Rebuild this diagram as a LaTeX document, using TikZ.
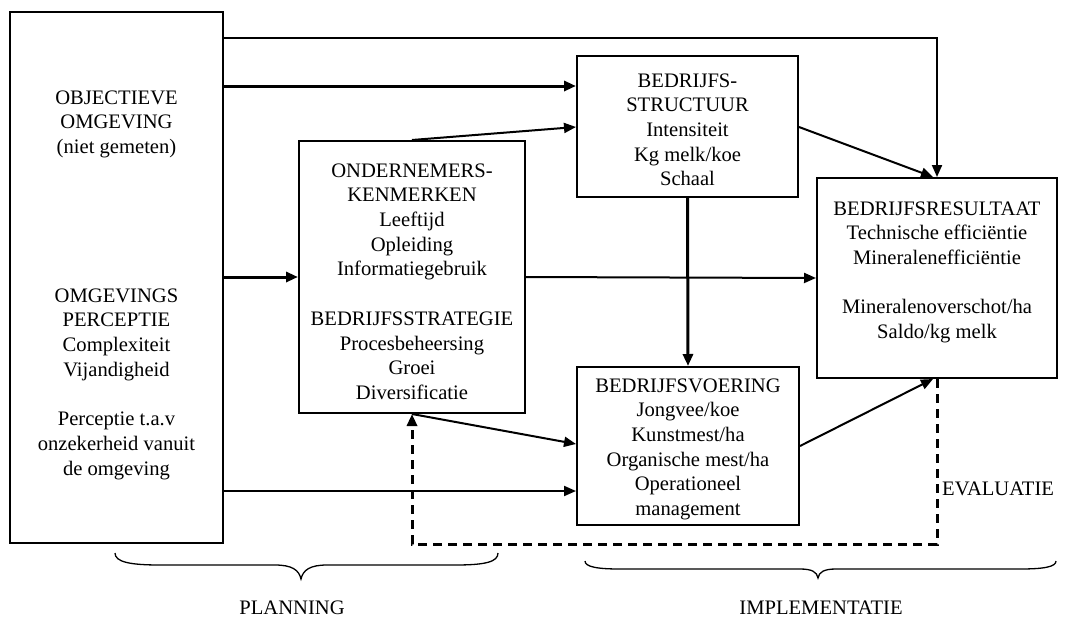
\documentclass[tikz,border=0pt]{standalone}
\usepackage{fontspec}
\setmainfont{Liberation Serif}
\usetikzlibrary{arrows.meta}
\begin{document}
\begin{tikzpicture}[x=1pt,y=-1pt,
  every node/.style={font=\fontsize{20.6}{24.7}\selectfont},
  box/.style={draw,line width=2pt,inner sep=0pt,rectangle},
  txt/.style={align=center,inner sep=0pt,anchor=north},
  thin/.style={line width=2pt,-{Triangle[length=12pt,width=10pt]}},
  thick/.style={line width=3pt,-{Triangle[length=12pt,width=10pt]}},
  fb/.style={line width=3pt,dash pattern=on 9pt off 6pt,-{Triangle[length=12pt,width=10pt]}},
  brace/.style={line width=1.3pt}]
\useasboundingbox (0,0) rectangle (1075,621);
% boxes
\node[box,minimum width=213pt,minimum height=531pt] (L) at (116.5,277.5) {};
\node[box,minimum width=226pt,minimum height=272pt] (O) at (412,277) {};
\node[box,minimum width=221pt,minimum height=141pt] (S) at (687.5,126.5) {};
\node[box,minimum width=222pt,minimum height=158pt] (V) at (688,446) {};
\node[box,minimum width=240pt,minimum height=200pt] (R) at (937,278) {};
% texts
\node[txt] (Lt1) at (116.5,86.7) {\strut OBJECTIEVE\\OMGEVING\\(niet gemeten)};
\node[txt] (Lt2) at (116.5,284.7) {\strut OMGEVINGS\\PERCEPTIE\\Complexiteit\\Vijandigheid\\[24.7pt]Perceptie t.a.v\\onzekerheid vanuit\\de omgeving};
\node[txt] (Ot) at (412,159.7) {\strut ONDERNEMERS-\\KENMERKEN\\Leeftijd\\Opleiding\\Informatiegebruik\\[24.7pt]BEDRIJFSSTRATEGIE\\Procesbeheersing\\Groei\\Diversificatie};
\node[txt] (St) at (687.5,69.7) {\strut BEDRIJFS-\\STRUCTUUR\\Intensiteit\\Kg melk/koe\\Schaal};
\node[txt] (Vt) at (688,374.7) {\strut BEDRIJFSVOERING\\Jongvee/koe\\Kunstmest/ha\\Organische mest/ha\\Operationeel\\management};
\node[txt] (Rt) at (937,197.7) {\strut BEDRIJFSRESULTAAT\\Technische efficiëntie\\Mineralenefficiëntie\\[24.7pt]Mineralenoverschot/ha\\Saldo/kg melk};
\node[anchor=base west,inner sep=0pt] (ev) at (942,495) {EVALUATIE};
\node[anchor=base,inner sep=0pt] (pl) at (292,614) {PLANNING};
\node[anchor=base,inner sep=0pt] (im) at (821,614) {IMPLEMENTATIE};
% helper coordinates
\coordinate (y38) at (0,38);
\coordinate (y86) at (0,86);
\coordinate (y491) at (0,491);
\coordinate (y444) at (0,444);
\coordinate (y127) at (0,127);
\coordinate (fbc) at (937,544);
% connectors
\draw[thin] (L.east |- y38) -| (R.north);
\draw[thick] (L.east |- y86) -- (S.west |- y86);
\draw[thin] (O.north) -- (S.west |- y127);
\draw[thin] (S.east |- y127) -- ([xshift=-4pt]R.north);
\draw[thick] (L.east |- O.west) -- (O.west);
\draw[thin] (O.east) -- (R.west);
\draw[thick] (S.south) -- (V.north);
\draw[thin] (O.south) -- (V.west |- y444);
\draw[thin] (L.east |- y491) -- (V.west |- y491);
\draw[thin] (V.east) -- ([xshift=-4pt]R.south);
\draw[fb] (R.south) -- (fbc) -| (O.south);
% braces
\draw[brace] (115,553) .. controls (115,562) and (130,565) .. (160,565) -- (275,565) .. controls (292,565) and (299,570) .. (301,579) .. controls (303,570) and (310,565) .. (327,565) -- (455,565) .. controls (485,565) and (498,562) .. (498,553);
\draw[brace] (585,561) .. controls (585,567) and (598,569) .. (620,569) -- (800,569) .. controls (812,569) and (817,572) .. (818,578) .. controls (819,572) and (824,569) .. (836,569) -- (1020,569) .. controls (1043,569) and (1056,567) .. (1056,561);
\end{tikzpicture}
\end{document}
